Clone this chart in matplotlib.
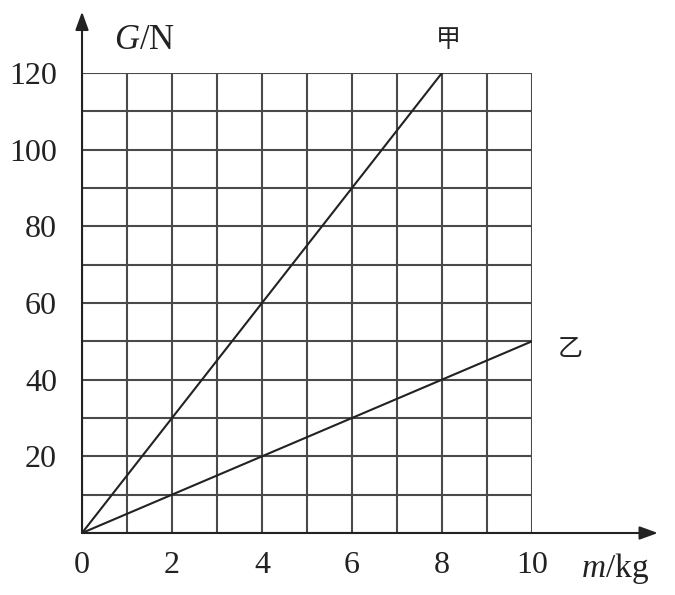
import numpy as np
import matplotlib.pyplot as plt

plt.rcParams['mathtext.fontset'] = 'custom'
plt.rcParams['mathtext.rm'] = 'Liberation Serif'
plt.rcParams['mathtext.it'] = 'Liberation Serif:italic'

# data
jia_m = [0, 8]
jia_G = [0, 120]
yi_m = [0, 10]
yi_G = [0, 50]

x_ticks = [0, 2, 4, 6, 8, 10]
y_ticks = [20, 40, 60, 80, 100, 120]
x_grid = np.arange(0, 11, 1)
y_grid = np.arange(0, 130, 10)

ink = '#222222'
grid_c = '#4a4a4a'

fig = plt.figure(figsize=(6.75, 5.95), dpi=100)
ax = fig.add_axes([0.1215, 0.1042, 0.6665, 0.7731])
ax.set_xlim(0, 10)
ax.set_ylim(0, 120)
for s in ax.spines.values():
    s.set_visible(False)

ax.vlines(x_grid, 0, 120, colors=grid_c, lw=1.5, zorder=1)
ax.hlines(y_grid, 0, 10, colors=grid_c, lw=1.5, zorder=1)

ax.plot(jia_m, jia_G, color=ink, lw=1.5, zorder=3)
ax.plot(yi_m, yi_G, color=ink, lw=1.5, zorder=3)

# axes with arrow heads
ax.annotate('', xy=(12.8, 0), xytext=(0, 0), annotation_clip=False,
            arrowprops=dict(arrowstyle='-|>,head_length=1.1,head_width=0.4',
                            color=ink, lw=1.5, shrinkA=0, shrinkB=0))
ax.annotate('', xy=(0, 136), xytext=(0, 0), annotation_clip=False,
            arrowprops=dict(arrowstyle='-|>,head_length=1.1,head_width=0.4',
                            color=ink, lw=1.5, shrinkA=0, shrinkB=0))

ax.set_xticks(x_ticks)
ax.set_xticklabels([str(v) for v in x_ticks])
ax.set_yticks(y_ticks)
ax.set_yticklabels([str(v) for v in y_ticks])
ax.tick_params(length=0, labelsize=23, colors=ink)
ax.tick_params(axis='x', pad=13)
ax.tick_params(axis='y', pad=18)
for lab in ax.get_xticklabels() + ax.get_yticklabels():
    lab.set_family('Liberation Serif')

ax.text(0.7, 128.5, '$G$/N', fontsize=25, color=ink, family='Liberation Serif',
        ha='left', va='center')
ax.text(11.1, -9.3, '$m$/kg', fontsize=24, color=ink, family='Liberation Serif',
        ha='left', va='center')
ax.text(8.15, 128.5, '甲', fontsize=18, color=ink, family='Noto Sans CJK SC',
        ha='center', va='center')
ax.text(10.85, 48, '乙', fontsize=18, color=ink, family='Noto Sans CJK SC',
        ha='center', va='center')

fig.savefig('out.png', dpi=100, facecolor='white')
